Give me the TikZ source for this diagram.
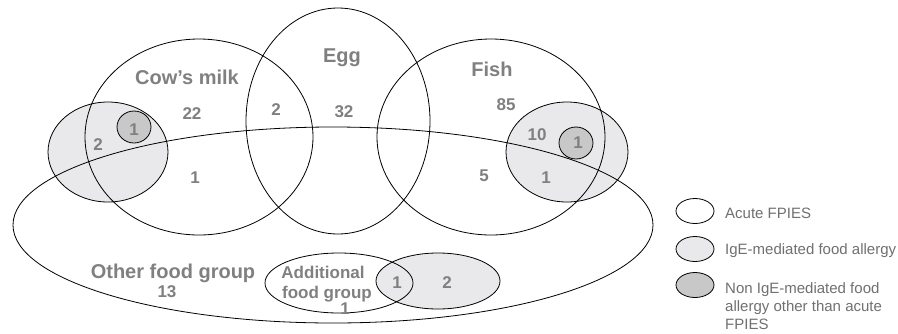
\documentclass[tikz,border=0pt]{standalone}
\usepackage{fontspec}
\setmainfont{Liberation Sans}
\definecolor{labgray}{RGB}{128,128,128}
\definecolor{leggray}{RGB}{112,112,112}
\definecolor{igefill}{RGB}{233,233,235}
\definecolor{darkfill}{RGB}{200,200,200}
\begin{document}
\begin{tikzpicture}[x=1pt,y=-1pt,
 lab/.style={font=\fontsize{20}{24}\selectfont\bfseries, text=labgray, inner sep=0pt, anchor=base},
 num/.style={font=\fontsize{17}{19}\selectfont\bfseries, text=labgray, inner sep=0pt, anchor=base},
 leg/.style={font=\fontsize{15}{18}\selectfont, text=leggray, inner sep=0pt, anchor=base west},
 outl/.style={draw=black, line width=0.8pt},
 igeshape/.style={fill=igefill},
 nonigeshape/.style={fill=darkfill},
]
\fill[white] (0,0) rectangle (898,333);
\useasboundingbox (0,0) rectangle (898,333);
% fills
\fill[igeshape] (108,152) ellipse [x radius=60pt, y radius=50pt];
\fill[igeshape] (567,152) ellipse [x radius=61pt, y radius=50pt];
\fill[igeshape] (438,281) ellipse [x radius=62pt, y radius=28pt];
\fill[nonigeshape] (134,127) ellipse [x radius=17pt, y radius=16pt];
\fill[nonigeshape] (576,143) ellipse [x radius=17pt, y radius=16pt];
% outlines
\draw[outl] (108,152) ellipse [x radius=60pt, y radius=50pt];
\draw[outl] (567,152) ellipse [x radius=61pt, y radius=50pt];
\draw[outl] (438,281) ellipse [x radius=62pt, y radius=28pt];
\draw[outl] (134,127) ellipse [x radius=17pt, y radius=16pt];
\draw[outl] (576,143) ellipse [x radius=17pt, y radius=16pt];
\draw[outl] (199,137) ellipse [x radius=114pt, y radius=98pt];
\draw[outl] (338,121) ellipse [x radius=92pt, y radius=113pt];
\draw[outl] (491,137) ellipse [x radius=114pt, y radius=98pt];
\draw[outl] (333,225) ellipse [x radius=320pt, y radius=98pt];
\draw[outl] (339,283) ellipse [x radius=74pt, y radius=30pt];
% labels
\node[lab] (cow) at (187,84) {Cow’s milk};
\node[lab] (egg) at (342,62) {Egg};
\node[lab] (fish) at (492,76) {Fish};
\node[lab] (other) at (173,278) {Other food group};
\node[num] (n13) at (167,297) {13};
\node[num] (add1) at (323,278) {Additional};
\node[num] (add2) at (327,298) {food group};
\node[num] (add3) at (345,314) {1};
\node[num] (n22) at (192,119) {22};
\node[num] (n2ce) at (276,115) {2};
\node[num] (n32) at (344,117) {32};
\node[num] (n2l) at (98,150) {2};
\node[num] (n1d) at (134,135) {1};
\node[num] (n1c) at (195,183) {1};
\node[num] (n85) at (506,110) {85};
\node[num] (n10) at (537,140) {10};
\node[num] (n1f) at (578,148) {1};
\node[num] (n5) at (484,181) {5};
\node[num] (n1fi) at (546,183) {1};
\node[num] (n1a) at (397,288) {1};
\node[num] (n2a) at (447,288) {2};
% legend
\draw[outl, fill=white] (695,211) ellipse [x radius=19pt, y radius=12.5pt];
\draw[outl, fill=igefill] (695,249) ellipse [x radius=19pt, y radius=12.5pt];
\draw[outl, fill=darkfill] (695,285) ellipse [x radius=19pt, y radius=12.5pt];
\node[leg] (l1) at (725,218) {Acute FPIES};
\node[leg] (l2) at (725,254) {IgE-mediated food allergy};
\node[leg] (l3a) at (725,293) {Non IgE-mediated food};
\node[leg] (l3b) at (725,311) {allergy other than acute};
\node[leg] (l3c) at (725,329) {FPIES};
\end{tikzpicture}
\end{document}
